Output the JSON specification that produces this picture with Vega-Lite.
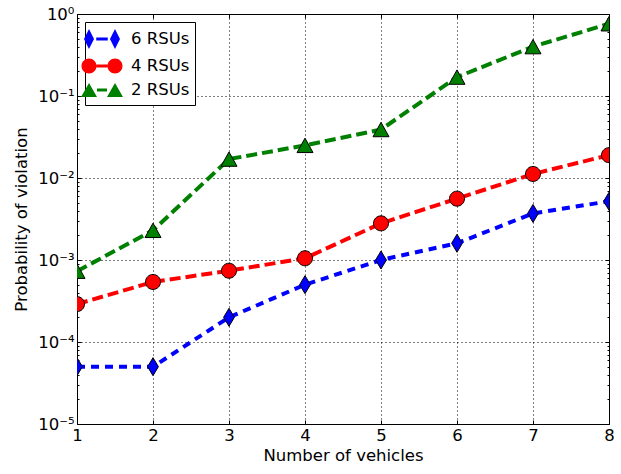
{
  "$schema": "https://vega.github.io/schema/vega-lite/v6.json",
  "width": 532,
  "height": 410,
  "autosize": {"type": "none"},
  "padding": {"left": 77, "top": 14, "right": 12, "bottom": 50},
  "config": {
    "font": "DejaVu Sans",
    "view": {"stroke": "black", "strokeWidth": 1},
    "axis": {
      "labelFont": "DejaVu Sans",
      "labelFontSize": 16.5,
      "labelColor": "black",
      "labelFlush": false,
      "titleFont": "DejaVu Sans",
      "titleFontSize": 16.5,
      "titleFontWeight": "normal",
      "titleColor": "black",
      "tickColor": "black",
      "tickWidth": 1,
      "domainColor": "black",
      "gridColor": "black",
      "gridDash": [1, 3],
      "gridOpacity": 1,
      "gridWidth": 1
    }
  },
  "data": {
    "values": [
      {"vehicles": 1, "p": 0.00005, "series": "6 RSUs"},
      {"vehicles": 2, "p": 0.00005, "series": "6 RSUs"},
      {"vehicles": 3, "p": 0.0002, "series": "6 RSUs"},
      {"vehicles": 4, "p": 0.0005, "series": "6 RSUs"},
      {"vehicles": 5, "p": 0.001, "series": "6 RSUs"},
      {"vehicles": 6, "p": 0.0016, "series": "6 RSUs"},
      {"vehicles": 7, "p": 0.0037, "series": "6 RSUs"},
      {"vehicles": 8, "p": 0.0052, "series": "6 RSUs"},
      {"vehicles": 1, "p": 0.00029, "series": "4 RSUs"},
      {"vehicles": 2, "p": 0.00054, "series": "4 RSUs"},
      {"vehicles": 3, "p": 0.00074, "series": "4 RSUs"},
      {"vehicles": 4, "p": 0.00105, "series": "4 RSUs"},
      {"vehicles": 5, "p": 0.0028, "series": "4 RSUs"},
      {"vehicles": 6, "p": 0.0056, "series": "4 RSUs"},
      {"vehicles": 7, "p": 0.0112, "series": "4 RSUs"},
      {"vehicles": 8, "p": 0.019, "series": "4 RSUs"},
      {"vehicles": 1, "p": 0.00073, "series": "2 RSUs"},
      {"vehicles": 2, "p": 0.0023, "series": "2 RSUs"},
      {"vehicles": 3, "p": 0.017, "series": "2 RSUs"},
      {"vehicles": 4, "p": 0.025, "series": "2 RSUs"},
      {"vehicles": 5, "p": 0.039, "series": "2 RSUs"},
      {"vehicles": 6, "p": 0.17, "series": "2 RSUs"},
      {"vehicles": 7, "p": 0.4, "series": "2 RSUs"},
      {"vehicles": 8, "p": 0.76, "series": "2 RSUs"}
    ]
  },
  "resolve": {
    "scale": {"color": "independent", "shape": "independent"},
    "axis": {"x": "independent", "y": "independent"}
  },
  "layer": [
    {
      "mark": {"type": "point", "filled": true, "opacity": 0, "stroke": "black", "strokeWidth": 1},
      "encoding": {
        "x": {"field": "vehicles", "type": "quantitative", "axis": null},
        "y": {"field": "p", "type": "quantitative", "axis": null},
        "color": {
          "field": "series", "type": "nominal",
          "scale": {"domain": ["6 RSUs", "4 RSUs", "2 RSUs"], "range": ["#0000ff", "#ff0000", "#008000"]},
          "legend": {
            "title": null,
            "orient": "top-left",
            "offset": 8,
            "padding": 5,
            "strokeColor": "black",
            "fillColor": "white",
            "cornerRadius": 0,
            "symbolSize": 529,
            "symbolStrokeColor": "black",
            "symbolStrokeWidth": 1,
            "symbolOpacity": 1,
            "labelFont": "DejaVu Sans",
            "labelFontSize": 16.5,
            "labelColor": "black",
            "labelOffset": 17,
            "rowPadding": 2
          }
        },
        "shape": {
          "field": "series", "type": "nominal",
          "scale": {"domain": ["6 RSUs", "4 RSUs", "2 RSUs"], "range": [
            "M-1.565,0L-1.13,-0.87L-0.695,0L-1.13,0.87Z M0.695,0L1.13,-0.87L1.565,0L1.13,0.87Z M-0.5,-0.13L0.5,-0.13L0.5,0.13L-0.5,0.13Z",
            "M-1.782,0A0.652,0.652,0,1,1,-0.478,0A0.652,0.652,0,1,1,-1.782,0Z M0.478,0A0.652,0.652,0,1,1,1.782,0A0.652,0.652,0,1,1,0.478,0Z M-0.478,-0.13L0.478,-0.13L0.478,0.13L-0.478,0.13Z",
            "M-1.13,-0.61L-0.434,0.61L-1.826,0.61Z M1.13,-0.61L1.826,0.61L0.434,0.61Z M-0.434,-0.13L0.434,-0.13L0.434,0.13L-0.434,0.13Z"
          ]},
          "legend": {
            "title": null,
            "orient": "top-left",
            "offset": 8,
            "padding": 5,
            "strokeColor": "black",
            "fillColor": "white",
            "cornerRadius": 0,
            "symbolSize": 529,
            "symbolStrokeColor": "black",
            "symbolStrokeWidth": 1,
            "symbolOpacity": 1,
            "labelFont": "DejaVu Sans",
            "labelFontSize": 16.5,
            "labelColor": "black",
            "labelOffset": 17,
            "rowPadding": 2
          }
        }
      }
    },
    {
      "transform": [{"filter": "datum.series === '6 RSUs'"}],
      "mark": {"type": "line", "strokeWidth": 4, "color": "#0000ff", "strokeDash": [8, 6], "clip": true},
      "encoding": {
        "x": {
          "field": "vehicles", "type": "quantitative",
          "scale": {"domain": [1, 8], "nice": false, "zero": false},
          "axis": {"orient": "bottom", "values": [1, 2, 3, 4, 5, 6, 7, 8], "format": "d", "grid": true, "tickSize": -4, "labelPadding": 7, "title": "Number of vehicles", "titlePadding": 4, "domain": false}
        },
        "y": {
          "field": "p", "type": "quantitative",
          "scale": {"type": "log", "domain": [0.00001, 1], "nice": false},
          "axis": {"orient": "left", "values": [0.00001, 0.0001, 0.001, 0.01, 0.1, 1], "grid": true, "tickSize": -4, "labelPadding": 7, "labelExpr": "datum.value >= 1 ? '10⁰' : '10⁻' + ['', '¹', '²', '³', '⁴', '⁵'][round(-log(datum.value) / LN10)]", "title": "Probability of violation", "titlePadding": 8, "domain": false}
        }
      }
    },
    {
      "transform": [{"filter": "datum.series === '4 RSUs'"}],
      "mark": {"type": "line", "strokeWidth": 4, "color": "#ff0000", "strokeDash": [11, 5], "clip": true},
      "encoding": {
        "x": {"field": "vehicles", "type": "quantitative", "axis": null},
        "y": {"field": "p", "type": "quantitative", "axis": null}
      }
    },
    {
      "transform": [{"filter": "datum.series === '2 RSUs'"}],
      "mark": {"type": "line", "strokeWidth": 4, "color": "#008000", "strokeDash": [11, 5], "clip": true},
      "encoding": {
        "x": {"field": "vehicles", "type": "quantitative", "axis": null},
        "y": {"field": "p", "type": "quantitative", "axis": null}
      }
    },
    {
      "mark": {"type": "point", "filled": true, "opacity": 1, "stroke": "black", "strokeWidth": 1, "size": 400, "clip": true},
      "encoding": {
        "x": {
          "field": "vehicles", "type": "quantitative",
          "axis": {"orient": "top", "values": [1, 2, 3, 4, 5, 6, 7, 8], "labels": false, "grid": false, "tickSize": -4, "title": null, "domain": false}
        },
        "y": {
          "field": "p", "type": "quantitative",
          "axis": {"orient": "right", "values": [0.00001, 0.0001, 0.001, 0.01, 0.1, 1], "labels": false, "grid": false, "tickSize": -4, "title": null, "domain": false}
        },
        "color": {
          "field": "series", "type": "nominal",
          "scale": {"domain": ["6 RSUs", "4 RSUs", "2 RSUs"], "range": ["#0000ff", "#ff0000", "#008000"]},
          "legend": null
        },
        "shape": {
          "field": "series", "type": "nominal",
          "scale": {"domain": ["6 RSUs", "4 RSUs", "2 RSUs"], "range": ["M0,-0.9L0.54,0L0,0.9L-0.54,0Z", "M-0.75,0A0.75,0.75,0,1,1,0.75,0A0.75,0.75,0,1,1,-0.75,0Z", "M0,-0.72L0.8,0.72L-0.8,0.72Z"]},
          "legend": null
        }
      }
    },
    {
      "mark": {"type": "point", "opacity": 0},
      "encoding": {
        "x": {"field": "vehicles", "type": "quantitative", "axis": null},
        "y": {
          "field": "p", "type": "quantitative",
          "axis": {"orient": "left", "values": [0.00002, 0.00003, 0.00004, 0.00005, 0.00006, 0.00007, 0.00008, 0.00009, 0.0002, 0.0003, 0.0004, 0.0005, 0.0006, 0.0007, 0.0008, 0.0009, 0.002, 0.003, 0.004, 0.005, 0.006, 0.007, 0.008, 0.009, 0.02, 0.03, 0.04, 0.05, 0.06, 0.07, 0.08, 0.09, 0.2, 0.3, 0.4, 0.5, 0.6, 0.7, 0.8, 0.9], "labels": false, "grid": false, "tickSize": -2, "title": null, "domain": false}
        }
      }
    },
    {
      "mark": {"type": "point", "opacity": 0},
      "encoding": {
        "x": {"field": "vehicles", "type": "quantitative", "axis": null},
        "y": {
          "field": "p", "type": "quantitative",
          "axis": {"orient": "right", "values": [0.00002, 0.00003, 0.00004, 0.00005, 0.00006, 0.00007, 0.00008, 0.00009, 0.0002, 0.0003, 0.0004, 0.0005, 0.0006, 0.0007, 0.0008, 0.0009, 0.002, 0.003, 0.004, 0.005, 0.006, 0.007, 0.008, 0.009, 0.02, 0.03, 0.04, 0.05, 0.06, 0.07, 0.08, 0.09, 0.2, 0.3, 0.4, 0.5, 0.6, 0.7, 0.8, 0.9], "labels": false, "grid": false, "tickSize": -2, "title": null, "domain": false}
        }
      }
    }
  ]
}
